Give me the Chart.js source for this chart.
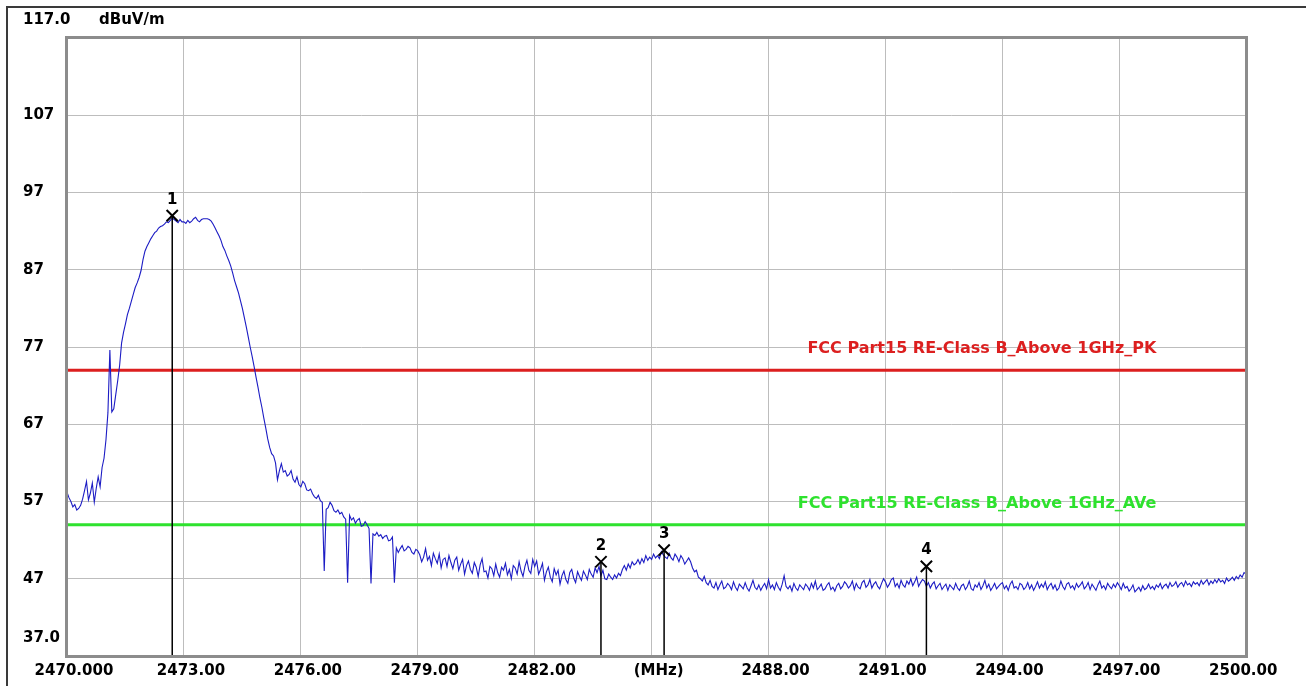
<!DOCTYPE html>
<html><head><meta charset="utf-8">
<script src="https://cdn.jsdelivr.net/npm/chart.js@4.4.1/dist/chart.umd.min.js"></script>
<style>
html,body{margin:0;padding:0;background:#fff;}
#wrap{position:relative;width:1306px;height:686px;overflow:hidden;}
#edge{position:absolute;left:6px;top:6px;width:1400px;height:800px;border-left:2px solid #3a3a3a;border-top:2px solid #3a3a3a;pointer-events:none;}
canvas{position:absolute;left:0;top:0;}
</style></head><body>
<div id="wrap"><canvas id="c" width="1306" height="686"></canvas><div id="edge"></div></div>
<script>
// ---- data ----
const freqStart = 2470.0;
const freqStep = 0.05;
const traceLevels = [
  58.2, 57.5, 57.0, 56.3, 56.6, 55.9, 56.1, 56.5, 57.3, 58.4, 59.6, 57.2, 58.1, 59.4, 56.9, 58.7, 60.2, 58.9, 61.4, 62.6,
  65.0, 68.5, 76.6, 68.6, 69.0, 70.8, 72.6, 74.6, 77.5, 78.9, 80.0, 81.2, 82.0, 82.9, 83.8, 84.7, 85.3, 86.0, 86.9, 88.3,
  89.4, 90.0, 90.5, 91.0, 91.4, 91.8, 92.0, 92.4, 92.6, 92.7, 92.9, 93.2, 93.1, 93.4, 93.7, 93.5, 93.3, 93.1, 93.5, 93.2,
  93.2, 93.0, 93.4, 93.1, 93.3, 93.6, 93.8, 93.4, 93.2, 93.5, 93.6, 93.6, 93.6, 93.5, 93.3, 92.9, 92.4, 91.9, 91.4, 90.8,
  90.0, 89.5, 88.8, 88.2, 87.5, 86.6, 85.6, 84.8, 84.0, 83.0, 82.0, 80.8, 79.6, 78.3, 77.0, 75.8, 74.5, 73.1, 71.8, 70.4,
  69.2, 67.8, 66.5, 65.1, 64.0, 63.2, 62.9, 62.0, 59.8, 61.0, 61.9, 60.8, 61.0, 60.3, 60.5, 61.0, 59.9, 59.5, 60.2, 59.2,
  58.9, 59.6, 59.3, 58.5, 58.4, 58.6, 58.0, 57.6, 57.4, 57.8, 57.1, 56.9, 48.0, 56.0, 56.2, 56.9, 56.5, 55.8, 55.6, 55.9,
  55.4, 55.6, 55.0, 54.7, 46.5, 55.2, 54.6, 54.9, 54.2, 54.6, 54.8, 53.8, 53.9, 54.4, 54.0, 53.5, 46.4, 52.8, 52.6, 53.0,
  52.5, 52.7, 52.2, 52.5, 52.6, 51.9, 52.0, 52.4, 46.5, 51.0, 50.4, 50.9, 51.3, 50.6, 50.8, 51.2, 51.0, 50.4, 50.2, 50.8,
  50.6, 50.1, 49.2, 49.8, 50.9, 49.4, 49.9, 48.7, 50.3, 49.6, 49.0, 50.2, 48.4, 49.5, 49.7, 48.6, 50.0, 49.1, 48.3, 49.4,
  49.8, 48.1, 48.9, 49.5, 47.6, 48.7, 49.3, 48.2, 47.7, 49.1, 48.5, 47.3, 48.8, 49.6, 47.9, 48.0, 47.1, 48.6, 48.3, 47.4,
  48.9, 47.8, 47.2, 48.5, 48.1, 49.0, 47.5, 48.2, 47.0, 48.7, 48.4, 47.6, 49.2, 48.0, 47.3, 48.6, 49.4, 48.1, 47.7, 49.5,
  48.6, 49.3, 47.6, 48.2, 49.0, 46.8, 47.9, 48.5, 47.2, 46.6, 48.3, 47.5, 48.1, 46.3, 47.4, 48.0, 46.9, 46.4, 47.8, 48.2,
  47.1, 46.5, 47.9, 47.3, 46.8, 48.0, 47.5, 46.9, 48.2, 47.6, 47.2, 48.4, 47.8, 48.6, 47.4, 48.1, 47.0, 46.9, 47.6, 47.2,
  46.9, 47.5, 47.1, 47.7, 47.4, 48.2, 48.7, 48.1, 48.9, 48.4, 49.2, 48.8, 49.0, 49.5, 48.9, 49.6, 49.1, 50.0, 49.4, 49.8,
  49.5, 50.2, 49.7, 50.0, 49.6, 50.5, 50.1, 49.8, 49.6, 50.3, 49.7, 49.4, 50.2, 49.8, 49.2, 50.0, 49.6, 48.9, 49.3, 49.7,
  49.2, 48.4, 47.9, 48.1, 47.2, 47.0, 46.7, 47.3, 46.5, 46.2, 46.8, 46.0, 45.8, 46.5, 45.6, 46.2, 46.7, 45.7, 45.9, 46.4,
  46.1, 45.6, 46.6, 45.9, 45.5, 46.3, 46.0, 45.7, 46.5, 45.8, 45.4, 46.1, 46.8, 45.9, 45.6, 46.2, 45.5, 46.0, 46.4, 45.7,
  46.9, 45.8, 46.2, 45.6, 46.5, 45.9, 45.5, 46.3, 47.4, 46.0, 45.7, 46.1, 45.4, 46.4, 45.8, 45.5, 46.2, 45.9, 45.6, 46.3,
  46.0, 45.5, 46.4, 45.8, 46.7, 45.6, 45.9, 46.3, 45.5, 45.7, 46.2, 46.5, 45.6, 45.9, 45.4, 46.1, 46.4, 45.7, 46.0, 46.6,
  46.3, 45.8, 46.1, 46.7, 45.6, 46.4, 45.9, 45.7, 46.5, 46.8, 45.9, 46.2, 46.9, 45.8, 46.3, 46.6, 46.0, 45.7, 46.4, 47.0,
  46.6, 45.9, 46.3, 46.9, 47.1, 46.0, 46.4, 45.8, 46.8, 46.2, 45.9, 46.7, 46.3, 47.0, 46.1, 46.6, 47.2, 46.0, 46.5, 46.9,
  46.7, 46.0, 46.5, 45.8, 46.3, 46.6, 45.7, 46.1, 46.4, 45.6, 46.0, 46.3, 45.5, 46.2, 45.9, 45.6, 46.4, 45.8, 45.5, 46.1,
  46.3, 45.6, 46.0, 46.7, 45.7, 45.5, 46.2, 45.9, 46.5, 45.6, 46.1, 46.8, 45.8, 46.3, 45.5, 45.9, 46.4, 45.7, 46.0, 46.3,
  46.5, 45.7, 46.1, 45.5, 46.3, 46.7, 45.8, 46.0, 45.6, 46.4, 46.2, 45.6, 45.9, 46.5, 45.7, 46.2, 45.5, 46.0, 46.6, 45.8,
  46.3, 45.9, 46.6, 45.6, 46.1, 46.4, 45.7, 46.2, 45.5, 45.8, 46.7, 46.0, 45.6, 46.3, 46.5, 45.8, 46.1, 45.6, 46.4, 45.9,
  46.2, 46.6, 45.7, 46.0, 46.5, 45.6, 46.3, 45.9, 45.5, 46.2, 46.7, 45.8, 46.1, 45.6, 46.4, 46.0, 45.7, 46.3, 45.9, 46.5,
  46.1, 45.6, 46.4, 45.8, 46.0, 45.4, 45.7, 46.2, 45.3, 45.6, 45.9, 45.4, 46.1, 45.6, 45.8, 46.3, 45.7, 46.0, 45.6, 46.2,
  45.9, 46.4, 45.7, 46.1, 46.3, 45.8, 46.5, 46.0, 46.2, 46.6, 45.9, 46.3, 46.5, 46.0, 46.7, 46.2, 46.4, 46.0, 46.6, 46.3,
  46.5, 46.1, 46.8, 46.3, 46.6, 46.9, 46.2, 46.7, 46.4, 46.9, 46.5, 47.0, 46.6, 46.8, 46.4, 47.1, 46.7, 46.9, 47.2, 46.8,
  47.3, 47.0, 47.5, 47.2, 47.8, 47.6
];
const limitLevels = [74, 54];
const limitNames = ['FCC Part15 RE-Class B_Above 1GHz_PK', 'FCC Part15 RE-Class B_Above 1GHz_AVe'];
const limitColors = ['#dc1f1f', '#2ee22e'];
const markerFreqs = [2472.70, 2483.70, 2485.32, 2492.05];
const markerLevels = [94.0, 49.2, 50.7, 48.6];
const markerNames = ['1', '2', '3', '4'];
const xTickValues = [2470, 2473, 2476, 2479, 2482, 2485, 2488, 2491, 2494, 2497, 2500];
const xTickLabels = ['2470.000', '2473.00', '2476.00', '2479.00', '2482.00', '(MHz)', '2488.00', '2491.00', '2494.00', '2497.00', '2500.00'];
const yTickValues = [37, 47, 57, 67, 77, 87, 97, 107, 117];
const yTickLabels = ['37.0', '47', '57', '67', '77', '87', '97', '107', '117.0'];
const unitLabel = 'dBuV/m';
const xMin = 2470, xMax = 2500.25, yMin = 37, yMax = 117;
const limitLabelFreq = 2497.95;

// ---- build datasets ----
const traceData = traceLevels.map((v, i) => ({ x: freqStart + i * freqStep, y: v }));
const markerLineData = [];
markerFreqs.forEach((f, i) => {
  markerLineData.push({ x: f, y: markerLevels[i] }, { x: f, y: yMin }, { x: f, y: null });
});
const markerPoints = markerFreqs.map((f, i) => ({ x: f, y: markerLevels[i] }));

const FONT = "'DejaVu Sans', sans-serif";

const annot = {
  id: 'annot',
  afterDatasetsDraw(chart) {
    const { ctx, chartArea: a, scales: { x, y } } = chart;
    ctx.save();
    ctx.strokeStyle = '#8c8c8c';
    ctx.lineWidth = 3;
    ctx.strokeRect(a.left - 0.5, a.top - 0.5, a.right - a.left + 1, a.bottom - a.top + 1);
    ctx.fillStyle = '#000';
    ctx.font = 'bold 15px ' + FONT;
    ctx.textBaseline = 'middle';
    ctx.textAlign = 'left';
    // top-of-axis value and unit (header line)
    ctx.fillText(yTickLabels[yTickLabels.length - 1], y.left, a.top - 18);
    ctx.fillText(unitLabel, a.left + 32, a.top - 18);
    ctx.textAlign = 'center';
    markerFreqs.forEach((f, i) => {
      ctx.fillText(markerNames[i], x.getPixelForValue(f), y.getPixelForValue(markerLevels[i]) - 16);
    });
    ctx.font = 'bold 16px ' + FONT;
    ctx.textAlign = 'right';
    limitLevels.forEach((lv, i) => {
      ctx.fillStyle = limitColors[i];
      ctx.fillText(limitNames[i], x.getPixelForValue(limitLabelFreq), y.getPixelForValue(lv) - 21);
    });
    ctx.restore();
  }
};

const datasets = [
  { data: markerPoints, showLine: false, pointStyle: 'crossRot', pointRadius: 8, borderColor: '#000', borderWidth: 2, order: 0 },
  { data: markerLineData, showLine: true, spanGaps: false, pointRadius: 0, borderColor: '#000', borderWidth: 1.5, order: 1 },
  { data: traceData, showLine: true, pointRadius: 0, borderColor: '#1c1cc4', borderWidth: 1.1, tension: 0, order: 2 }
];
limitLevels.forEach((lv, i) => {
  datasets.push({ data: [{ x: xMin, y: lv }, { x: xMax, y: lv }], showLine: true, pointRadius: 0, borderColor: limitColors[i], borderWidth: 3, order: 3 });
});

new Chart(document.getElementById('c').getContext('2d'), {
  type: 'scatter',
  data: { datasets },
  options: {
    responsive: false,
    animation: false,
    devicePixelRatio: 1,
    layout: { padding: { left: 23, right: 60, top: 38, bottom: 0 } },
    plugins: { legend: { display: false }, tooltip: { enabled: false }, title: { display: false } },
    scales: {
      x: {
        type: 'linear', min: xMin, max: xMax,
        afterBuildTicks: s => { s.ticks = xTickValues.map(v => ({ value: v })); },
        afterFit: s => { s.height = 30; },
        grid: {
          drawTicks: false, lineWidth: 1,
          color: c => (c.tick && (c.tick.value === xTickValues[0] || c.tick.value === xTickValues[xTickValues.length - 1])) ? 'rgba(0,0,0,0)' : '#bdbdbd'
        },
        border: { display: false },
        ticks: {
          autoSkip: false, maxRotation: 0, minRotation: 0, padding: 6, labelOffset: 7, color: '#000',
          font: { family: FONT, weight: 'bold', size: 15 },
          callback: (v, i) => xTickLabels[i]
        }
      },
      y: {
        type: 'linear', min: yMin, max: yMax,
        afterBuildTicks: s => { s.ticks = yTickValues.map(v => ({ value: v })); },
        afterFit: s => { s.width = 44; },
        grid: {
          drawTicks: false, lineWidth: 1,
          color: c => (c.tick && (c.tick.value === yMin || c.tick.value === yMax)) ? 'rgba(0,0,0,0)' : '#bdbdbd'
        },
        border: { display: false },
        ticks: {
          crossAlign: 'far', padding: 0, color: '#000',
          font: { family: FONT, weight: 'bold', size: 15 },
          // bottom label sits above the axis floor; top label is drawn in the header line
          callback: (v, i) => i === 0 ? [yTickLabels[0], '', ''] : (i === yTickLabels.length - 1 ? '' : yTickLabels[i])
        }
      }
    }
  },
  plugins: [annot]
});
</script></body></html>
